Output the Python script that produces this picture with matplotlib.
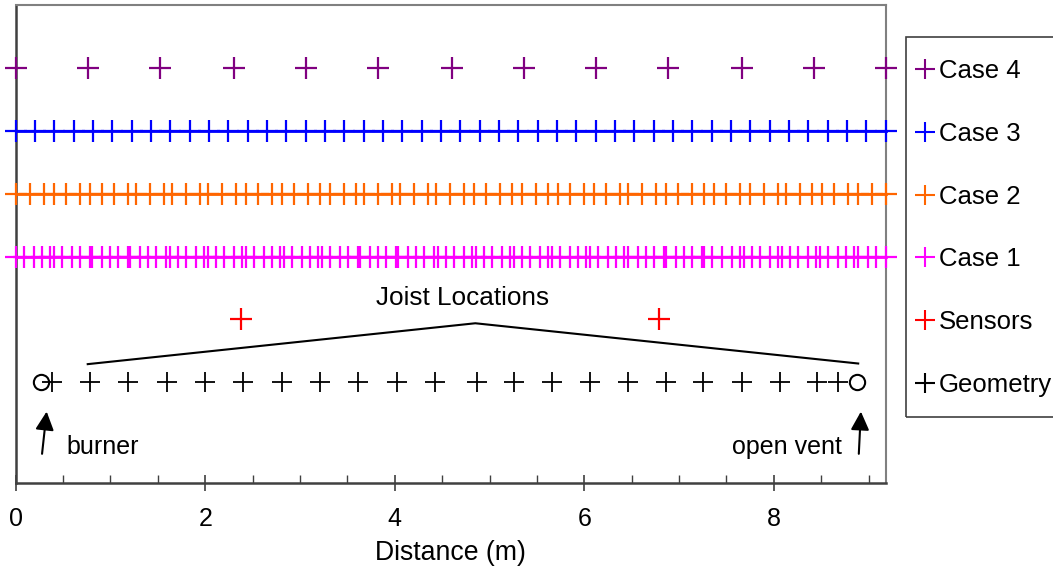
import matplotlib
matplotlib.use("Agg")
import matplotlib.pyplot as plt
from matplotlib.lines import Line2D
from matplotlib.patches import Rectangle
from matplotlib.ticker import MultipleLocator

plt.rcParams['font.family'] = ['Liberation Sans', 'DejaVu Sans']

# ---- data (metres) ----
case4_x = [0.00, 0.76, 1.52, 2.30, 3.06, 3.82, 4.60, 5.36, 6.12, 6.88, 7.66, 8.42, 9.18]
case3_x = [0.000, 0.204, 0.408, 0.612, 0.816, 1.020, 1.224, 1.428, 1.632, 1.836,
           2.040, 2.244, 2.448, 2.652, 2.856, 3.060, 3.264, 3.468, 3.672, 3.876,
           4.080, 4.284, 4.488, 4.692, 4.896, 5.100, 5.304, 5.508, 5.712, 5.916,
           6.120, 6.324, 6.528, 6.732, 6.936, 7.140, 7.344, 7.548, 7.752, 7.956,
           8.160, 8.364, 8.568, 8.772, 8.976, 9.180]
case2_x = [0.000, 0.151, 0.296, 0.401, 0.528, 0.675, 0.781, 0.908, 1.034, 1.182,
           1.266, 1.414, 1.562, 1.646, 1.794, 1.942, 2.026, 2.174, 2.322, 2.427,
           2.554, 2.702, 2.807, 2.934, 3.082, 3.208, 3.314, 3.462, 3.588, 3.673,
           3.821, 3.968, 4.053, 4.201, 4.348, 4.433, 4.580, 4.728, 4.834, 4.960,
           5.108, 5.235, 5.340, 5.488, 5.615, 5.720, 5.847, 5.995, 6.100, 6.227,
           6.375, 6.459, 6.607, 6.755, 6.861, 6.987, 7.135, 7.262, 7.367, 7.494,
           7.641, 7.747, 7.895, 8.042, 8.127, 8.274, 8.401, 8.507, 8.633, 8.781,
           8.887, 9.034, 9.182]
case1_x = [0.000, 0.084, 0.190, 0.274, 0.359, 0.401, 0.485, 0.591, 0.675, 0.781,
           0.802, 0.908, 0.992, 1.077, 1.182, 1.203, 1.309, 1.393, 1.478, 1.583,
           1.625, 1.710, 1.794, 1.900, 1.984, 2.026, 2.111, 2.195, 2.301, 2.385,
           2.427, 2.512, 2.617, 2.702, 2.786, 2.828, 2.913, 3.018, 3.103, 3.187,
           3.230, 3.314, 3.420, 3.504, 3.609, 3.631, 3.736, 3.821, 3.905, 4.011,
           4.032, 4.137, 4.222, 4.306, 4.412, 4.454, 4.538, 4.623, 4.728, 4.813,
           4.855, 4.939, 5.024, 5.129, 5.214, 5.256, 5.340, 5.425, 5.530, 5.615,
           5.657, 5.741, 5.847, 5.931, 6.016, 6.058, 6.142, 6.248, 6.332, 6.417,
           6.459, 6.565, 6.649, 6.733, 6.839, 6.860, 6.966, 7.050, 7.135, 7.240,
           7.261, 7.346, 7.451, 7.557, 7.641, 7.683, 7.768, 7.852, 7.958, 8.042,
           8.084, 8.169, 8.253, 8.359, 8.443, 8.485, 8.570, 8.675, 8.760, 8.844,
           8.887, 8.992, 9.077, 9.182]
sensors_x = [2.38, 6.79]
geometry_x = [0.38, 0.784, 1.188, 1.594, 1.998, 2.402, 2.807, 3.212, 3.616, 4.021,
              4.425, 4.865, 5.259, 5.660, 6.061, 6.459, 6.863, 7.254, 7.662, 8.066,
              8.454, 8.68]
ends_x = [0.27, 8.88]   # burner, open vent (circles)

row_y = {"Case 4": 6, "Case 3": 5, "Case 2": 4, "Case 1": 3, "Sensors": 2, "Geometry": 1}
colors = {"Case 4": "#800080", "Case 3": "#0000FF", "Case 2": "#FF6600",
          "Case 1": "#FF00FF", "Sensors": "#FF0000", "Geometry": "#000000"}

# joist bracket line
joist_line_x = [0.76, 4.85, 8.89]
joist_line_y = [1.29, 1.94, 1.30]

fig = plt.figure(figsize=(10.53, 5.71), dpi=100)
ax = fig.add_axes([0.0149, 0.1541, 0.8262, 0.8371])

ms = 15.5
mew = 1.6
FS = 18

def row(xs, name, line=False):
    ys = [row_y[name]] * len(xs)
    ax.plot(xs, ys, linestyle='-' if line else 'none', color=colors[name],
            lw=2.0, marker='+', markersize=ms, markeredgewidth=mew, clip_on=False, zorder=3)

row(case4_x, "Case 4")
row(case3_x, "Case 3", line=True)
row(case2_x, "Case 2", line=True)
row(case1_x, "Case 1", line=True)
row(sensors_x, "Sensors")
ax.plot(geometry_x, [row_y["Geometry"]] * len(geometry_x), linestyle='none', color='black',
        marker='+', markersize=15, markeredgewidth=1.3, zorder=3)
ax.plot(ends_x, [row_y["Geometry"]] * len(ends_x), linestyle='none', color='black',
        marker='o', markersize=11, markerfacecolor='none', markeredgewidth=1.5, zorder=3)

ax.plot(joist_line_x, joist_line_y, color='black', lw=1.5)
ax.text(4.72, 2.34, "Joist Locations", ha='center', va='center', fontsize=18.8)

ax.annotate("", xy=(0.33, 0.58), xytext=(0.275, -0.18),
            arrowprops=dict(arrowstyle='-|>', color='black', lw=1.5, mutation_scale=28))
ax.annotate("", xy=(8.92, 0.58), xytext=(8.895, -0.18),
            arrowprops=dict(arrowstyle='-|>', color='black', lw=1.5, mutation_scale=28))
ax.text(0.54, -0.02, "burner", ha='left', va='center', fontsize=FS)
ax.text(8.72, -0.02, "open vent", ha='right', va='center', fontsize=FS)

ax.set_xlim(0, 9.18)
ax.set_ylim(-0.6, 7.0)
ax.set_yticks([])
ax.xaxis.set_major_locator(MultipleLocator(2))
ax.xaxis.set_minor_locator(MultipleLocator(0.5))
ax.tick_params(axis='x', which='major', direction='inout', length=12, width=1.2,
               labelsize=FS, pad=11, color='#404040')
ax.tick_params(axis='x', which='minor', direction='in', length=6, width=1.0, color='#404040')
ax.set_xlabel("Distance (m)", fontsize=19.2, labelpad=7)

for s in ['top', 'right']:
    ax.spines[s].set_color('#808080')
    ax.spines[s].set_linewidth(1.5)
for s in ['left', 'bottom']:
    ax.spines[s].set_color('#404040')
    ax.spines[s].set_linewidth(1.8)

labels = ["Case 4", "Case 3", "Case 2", "Case 1", "Sensors", "Geometry"]
handles = [Line2D([], [], linestyle='none', marker='+', color=colors[n], markersize=14,
                  markeredgewidth=1.5) for n in labels]
leg = fig.legend(handles, labels, loc='upper left', bbox_to_anchor=(917 / 1053, 1 - 59 / 571),
                 frameon=False, fontsize=18.5, labelspacing=1.51,
                 handlelength=0.6, handletextpad=0.25, borderpad=0, borderaxespad=0)
fig.add_artist(Rectangle((906 / 1053, 1 - 417 / 571), 0.2, 380 / 571, transform=fig.transFigure,
                         fill=False, edgecolor='#404040', lw=1.2, clip_on=False))

fig.savefig("out.png", dpi=100)
